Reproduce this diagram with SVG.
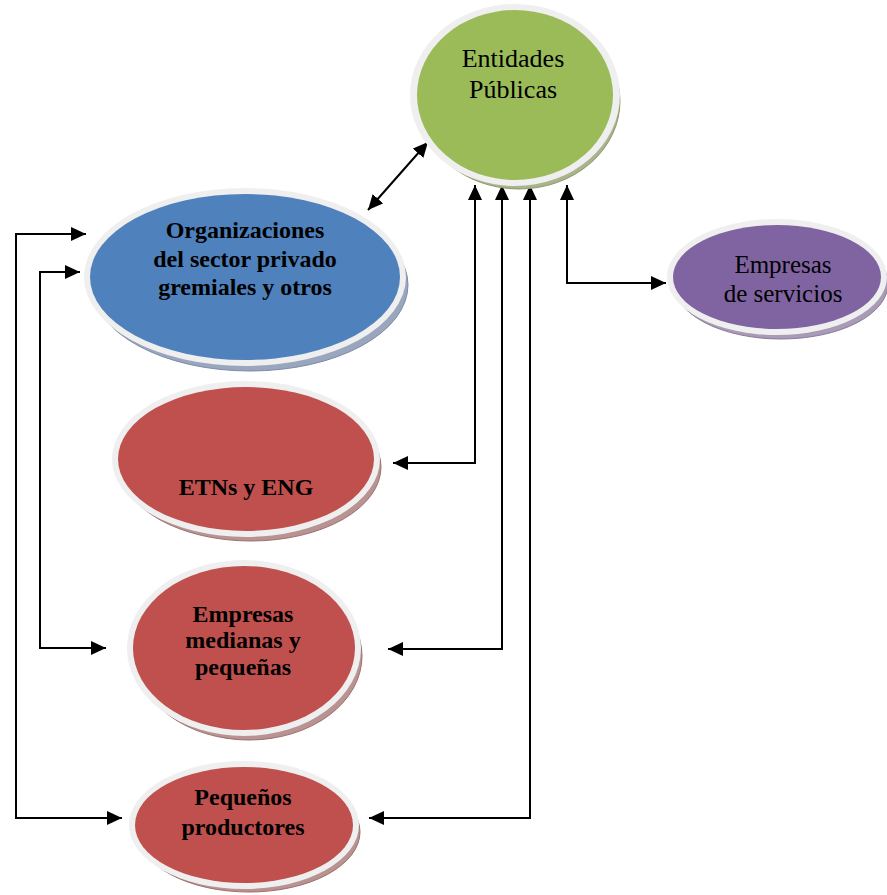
<svg xmlns="http://www.w3.org/2000/svg" width="887" height="895" viewBox="0 0 887 895">
<defs>
<marker id="ah" markerUnits="userSpaceOnUse" markerWidth="16" markerHeight="14" refX="15" refY="7" orient="auto-start-reverse" viewBox="0 0 16 14">
<path d="M0,0 L15,7 L0,14 Z" fill="#000"/>
</marker>
</defs>
<style>
.ring{fill:#efefef;}
.t{font-family:"Liberation Serif","Times New Roman",serif;fill:#000;text-anchor:middle;}
.b{font-weight:bold;font-size:24px;}
.r{font-size:26px;}
.c{fill:none;stroke:#000;stroke-width:2;}
.sg{fill:#a9b38c;stroke:#8e9a6c;stroke-width:1;}
.sb{fill:#9aa6bd;stroke:#7d8aa6;stroke-width:1;}
.sp{fill:#a99bb6;stroke:#8a7a9c;stroke-width:1;}
.sr{fill:#b99292;stroke:#9c6f6f;stroke-width:1;}
</style>
<g id="connectors">
<path class="c" d="M428,142 L368,210" marker-start="url(#ah)" marker-end="url(#ah)"/>
<path class="c" d="M475,185 V463 H393" marker-start="url(#ah)" marker-end="url(#ah)"/>
<path class="c" d="M502,185 V649 H388" marker-start="url(#ah)" marker-end="url(#ah)"/>
<path class="c" d="M530,185 V818 H369" marker-start="url(#ah)" marker-end="url(#ah)"/>
<path class="c" d="M567,185 V283 H666" marker-start="url(#ah)" marker-end="url(#ah)"/>
<path class="c" d="M86,234 H16 V818 H122" marker-start="url(#ah)" marker-end="url(#ah)"/>
<path class="c" d="M80,272 H40 V648 H106" marker-start="url(#ah)" marker-end="url(#ah)"/>
</g>
<g id="entidades">
<ellipse class="sg" cx="519" cy="101" rx="101" ry="88"/>
<ellipse class="ring" cx="515" cy="95" rx="105" ry="91"/>
<ellipse cx="515" cy="95" rx="98" ry="85" fill="#9bbb59"/>
<text class="t r" x="513" y="67">Entidades</text>
<text class="t r" x="513" y="98">Públicas</text>
</g>
<g id="organizaciones">
<ellipse class="sb" cx="250" cy="285" rx="158" ry="86"/>
<ellipse class="ring" cx="245" cy="277" rx="161" ry="89"/>
<ellipse cx="245" cy="277" rx="155" ry="83" fill="#4f81bd"/>
<text class="t b" x="245" y="238">Organizaciones</text>
<text class="t b" x="245" y="267">del sector privado</text>
<text class="t b" x="245" y="295">gremiales y otros</text>
</g>
<g id="servicios">
<ellipse class="sp" cx="781" cy="284" rx="107" ry="55"/>
<ellipse class="ring" cx="777" cy="277" rx="110" ry="58"/>
<ellipse cx="777" cy="277" rx="104" ry="52" fill="#8064a2"/>
<text class="t r" x="783" y="273" style="font-size:25px">Empresas</text>
<text class="t r" x="783" y="302" style="font-size:25px">de servicios</text>
</g>
<g id="etns">
<ellipse class="sr" cx="251" cy="467" rx="130" ry="74"/>
<ellipse class="ring" cx="246" cy="459" rx="134" ry="78"/>
<ellipse cx="246" cy="459" rx="128" ry="72" fill="#c0504d"/>
<text class="t b" x="246" y="495">ETNs y ENG</text>
</g>
<g id="medianas">
<ellipse class="sr" cx="249" cy="656" rx="113" ry="84"/>
<ellipse class="ring" cx="244" cy="648" rx="117" ry="88"/>
<ellipse cx="244" cy="648" rx="111" ry="82" fill="#c0504d"/>
<text class="t b" x="243" y="622">Empresas</text>
<text class="t b" x="243" y="648">medianas y</text>
<text class="t b" x="243" y="675">pequeñas</text>
</g>
<g id="pequenos">
<ellipse class="sr" cx="249" cy="832" rx="111" ry="60"/>
<ellipse class="ring" cx="244" cy="825" rx="115" ry="64"/>
<ellipse cx="244" cy="825" rx="109" ry="58" fill="#c0504d"/>
<text class="t b" x="243" y="805">Pequeños</text>
<text class="t b" x="243" y="835">productores</text>
</g>
</svg>
